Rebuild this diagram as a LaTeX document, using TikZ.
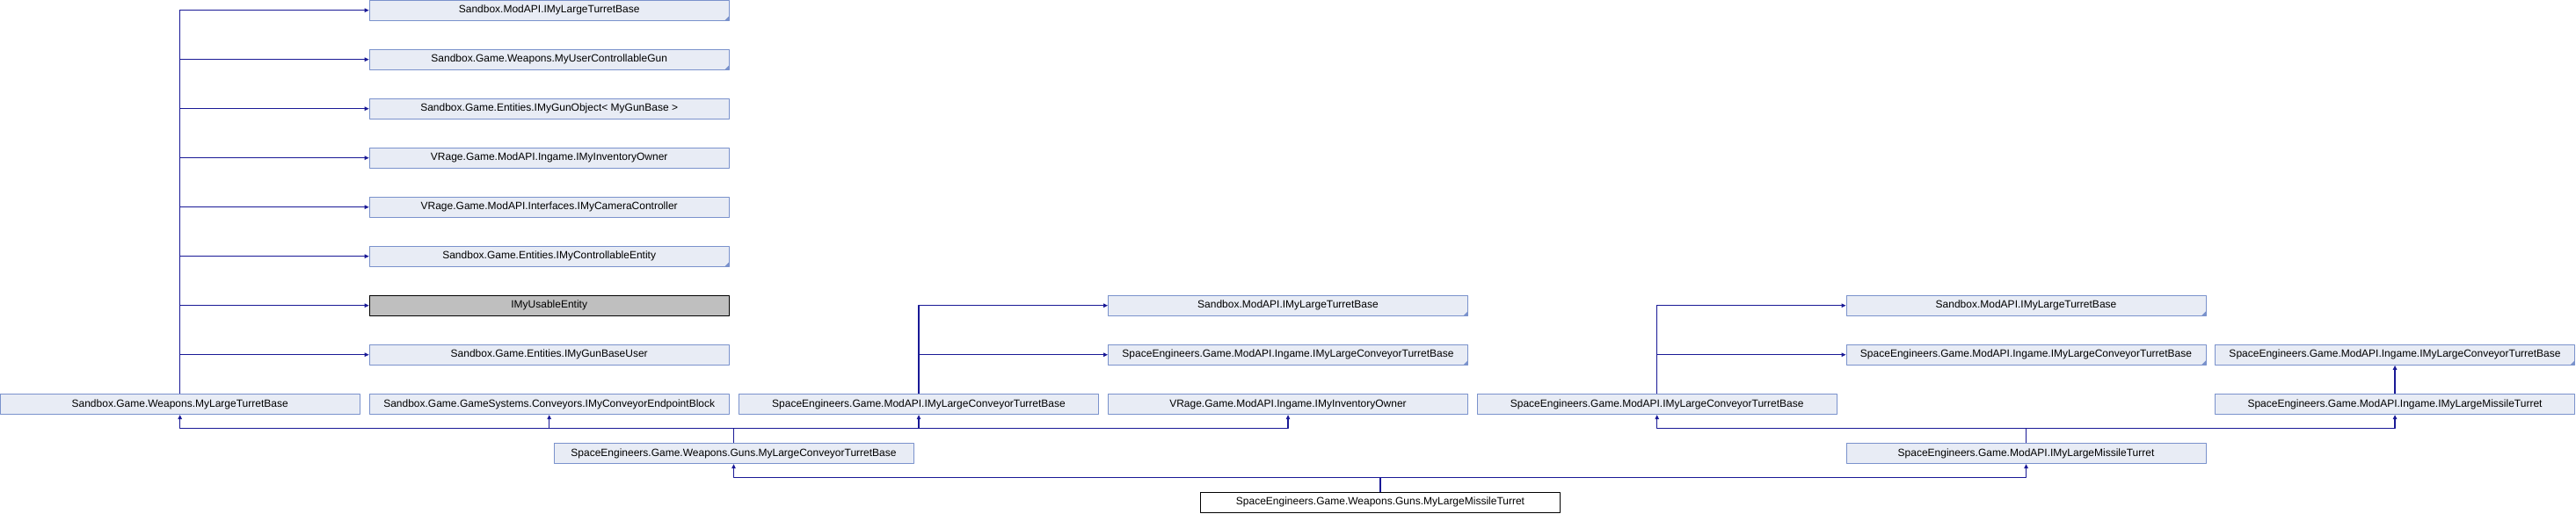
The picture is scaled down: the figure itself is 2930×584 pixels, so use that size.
\documentclass[tikz,border=0pt]{standalone}
\usepackage{fontspec}
\setmainfont{Liberation Sans}
\usetikzlibrary{arrows.meta}
\definecolor{edgeblue}{RGB}{25,25,150}
\definecolor{boxfill}{RGB}{232,236,245}
\definecolor{boxline}{RGB}{122,146,204}
\begin{document}
\begin{tikzpicture}[x=1pt, y=1pt, font=\fontsize{12}{14}\selectfont, line join=round,
    cls/.style={draw=boxline, fill=boxfill, line width=1pt, minimum width=409pt, minimum height=23.3pt, inner sep=0pt},
    trunc/.style={cls, path picture={\fill[boxline] (path picture bounding box.south east) -- ++(-5,0) -- ++(5,5) -- cycle;}},
    cur/.style={cls, draw=black, fill=black!25},
    leaf/.style={cls, draw=black, fill=white},
    edge/.style={draw=edgeblue, line width=1.1pt, -{Triangle[length=5pt,width=4.5pt]}}]
    \useasboundingbox (0,0) rectangle (2930,-584);
    % left column of interfaces
    \node[trunc] (imlt1) at (624.7,-11.7) {Sandbox.ModAPI.IMyLargeTurretBase};
    \node[trunc] (iucg) at (624.7,-67.7) {Sandbox.Game.Weapons.MyUserControllableGun};
    \node[cls] (igo) at (624.7,-123.7) {Sandbox.Game.Entities.IMyGunObject< MyGunBase >};
    \node[cls] (iio1) at (624.7,-179.7) {VRage.Game.ModAPI.Ingame.IMyInventoryOwner};
    \node[cls] (icc) at (624.7,-235.7) {VRage.Game.ModAPI.Interfaces.IMyCameraController};
    \node[trunc] (ice) at (624.7,-291.7) {Sandbox.Game.Entities.IMyControllableEntity};
    \node[cur] (iue) at (624.7,-347.7) {IMyUsableEntity};
    \node[cls] (igbu) at (624.7,-403.7) {Sandbox.Game.Entities.IMyGunBaseUser};
    % upper right interfaces
    \node[trunc] (imlt2) at (1465,-347.7) {Sandbox.ModAPI.IMyLargeTurretBase};
    \node[trunc] (ictb1) at (1465,-403.7) {SpaceEngineers.Game.ModAPI.Ingame.IMyLargeConveyorTurretBase};
    \node[trunc] (imlt3) at (2304.5,-347.7) {Sandbox.ModAPI.IMyLargeTurretBase};
    \node[trunc] (ictb2) at (2304.5,-403.7) {SpaceEngineers.Game.ModAPI.Ingame.IMyLargeConveyorTurretBase};
    \node[trunc] (ictb3) at (2724,-403.7) {SpaceEngineers.Game.ModAPI.Ingame.IMyLargeConveyorTurretBase};
    % base row
    \node[cls] (mltb) at (204.7,-460) {Sandbox.Game.Weapons.MyLargeTurretBase};
    \node[cls] (icep) at (624.7,-460) {Sandbox.Game.GameSystems.Conveyors.IMyConveyorEndpointBlock};
    \node[cls] (imlctb1) at (1045,-460) {SpaceEngineers.Game.ModAPI.IMyLargeConveyorTurretBase};
    \node[cls] (iio2) at (1465,-460) {VRage.Game.ModAPI.Ingame.IMyInventoryOwner};
    \node[cls] (imlctb2) at (1884.7,-460) {SpaceEngineers.Game.ModAPI.IMyLargeConveyorTurretBase};
    \node[cls] (iimmt) at (2724,-460) {SpaceEngineers.Game.ModAPI.Ingame.IMyLargeMissileTurret};
    % lower rows
    \node[cls] (mlctb) at (834.5,-516) {SpaceEngineers.Game.Weapons.Guns.MyLargeConveyorTurretBase};
    \node[cls] (imlmt) at (2304.5,-516) {SpaceEngineers.Game.ModAPI.IMyLargeMissileTurret};
    \node[leaf] (mlmt) at (1570,-571.7) {SpaceEngineers.Game.Weapons.Guns.MyLargeMissileTurret};
    % inheritance
    \draw[edge] (mltb.north) |- (imlt1.west);
    \draw[edge] (mltb.north) |- (iucg.west);
    \draw[edge] (mltb.north) |- (igo.west);
    \draw[edge] (mltb.north) |- (iio1.west);
    \draw[edge] (mltb.north) |- (icc.west);
    \draw[edge] (mltb.north) |- (ice.west);
    \draw[edge] (mltb.north) |- (iue.west);
    \draw[edge] (mltb.north) |- (igbu.west);
    \draw[edge] (imlctb1.north) |- (imlt2.west);
    \draw[edge] (imlctb1.north) |- (ictb1.west);
    \draw[edge] (imlctb2.north) |- (imlt3.west);
    \draw[edge] (imlctb2.north) |- (ictb2.west);
    \draw[edge] (iimmt.north) -- (ictb3.south);
    \draw[edge] (mlctb.north) -- ++(0,16) -| (mltb.south);
    \draw[edge] (mlctb.north) -- ++(0,16) -| (icep.south);
    \draw[edge] (mlctb.north) -- ++(0,16) -| (imlctb1.south);
    \draw[edge] (mlctb.north) -- ++(0,16) -| (iio2.south);
    \draw[edge] (imlmt.north) -- ++(0,16) -| (imlctb2.south);
    \draw[edge] (imlmt.north) -- ++(0,16) -| (iimmt.south);
    \draw[edge] (mlmt.north) -- ++(0,15.7) -| (mlctb.south);
    \draw[edge] (mlmt.north) -- ++(0,15.7) -| (imlmt.south);
\end{tikzpicture}
\end{document}
